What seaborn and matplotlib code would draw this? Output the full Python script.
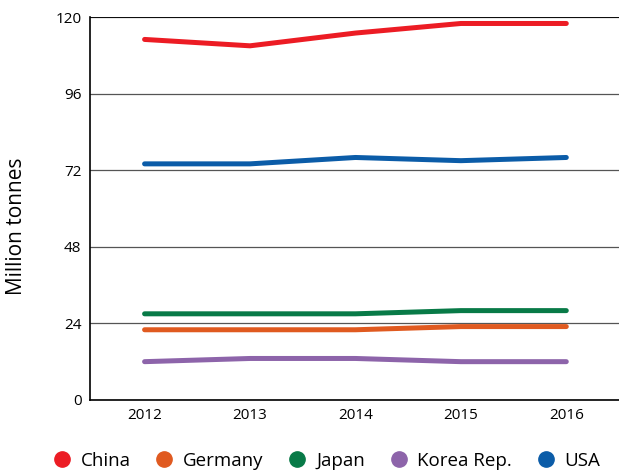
import pandas as pd
import matplotlib.pyplot as plt
import seaborn as sns
from matplotlib.lines import Line2D

# data (million tonnes)
years = ["2012", "2013", "2014", "2015", "2016"]
countries = ["China", "Germany", "Japan", "Korea Rep.", "USA"]
china = [113, 111, 115, 118, 118]
germany = [22, 22, 22, 23, 23]
japan = [27, 27, 27, 28, 28]
korea = [12, 13, 13, 12, 12]
usa = [74, 74, 76, 75, 76]
colors = ["#ec1c24", "#e05a20", "#087a47", "#8d64aa", "#0b5ca8"]

series = [china, germany, japan, korea, usa]
df = pd.DataFrame({
    "year": years * len(countries),
    "country": [c for c in countries for _ in years],
    "value": [v for s in series for v in s],
})

sns.set_style("white")
plt.rcParams["font.family"] = ["Open Sans", "DejaVu Sans"]

fig = plt.figure(figsize=(6.19, 4.75), dpi=100)
ax = fig.add_axes([0.145, 0.158, 0.855, 0.806])

sns.lineplot(data=df, x="year", y="value", hue="country", palette=colors,
             linewidth=3.6, solid_capstyle="round", legend=False, ax=ax, zorder=3)

ax.set_ylim(0, 120)
ax.set_xlim(-0.52, 4.5)
ax.set_yticks([0, 24, 48, 72, 96, 120])
ax.tick_params(axis="y", length=0, labelsize=11, pad=6, labelcolor="black")
ax.set_xticks(range(len(years)))
ax.set_xticklabels(years)
ax.tick_params(axis="x", which="major", length=0, labelsize=11, pad=6, labelcolor="black")
ax.set_xticks([0.5, 1.5, 2.5, 3.5], minor=True)
ax.tick_params(axis="x", which="minor", direction="in", length=8, width=1, color="black")
ax.yaxis.grid(True, color="#555555", linewidth=0.9)
ax.set_xlabel("")
ax.set_ylabel("Million tonnes", fontsize=15, color="black")
ax.yaxis.set_label_coords(-0.118, 0.455)

for side in ["right", "top"]:
    ax.spines[side].set_visible(False)
for side in ["left", "bottom"]:
    ax.spines[side].set_color("black")
    ax.spines[side].set_linewidth(1.2)
ax.axhline(120, color="black", linewidth=1.2, zorder=2)

handles = [Line2D([], [], marker="o", linestyle="", markersize=11, color=c) for c in colors]
fig.legend(handles, countries, loc="lower center", ncol=5, frameon=False,
           bbox_to_anchor=(0.52, -0.025), fontsize=13.5, handletextpad=0.0,
           columnspacing=0.8, labelcolor="black")

fig.savefig("out.png", dpi=100)
